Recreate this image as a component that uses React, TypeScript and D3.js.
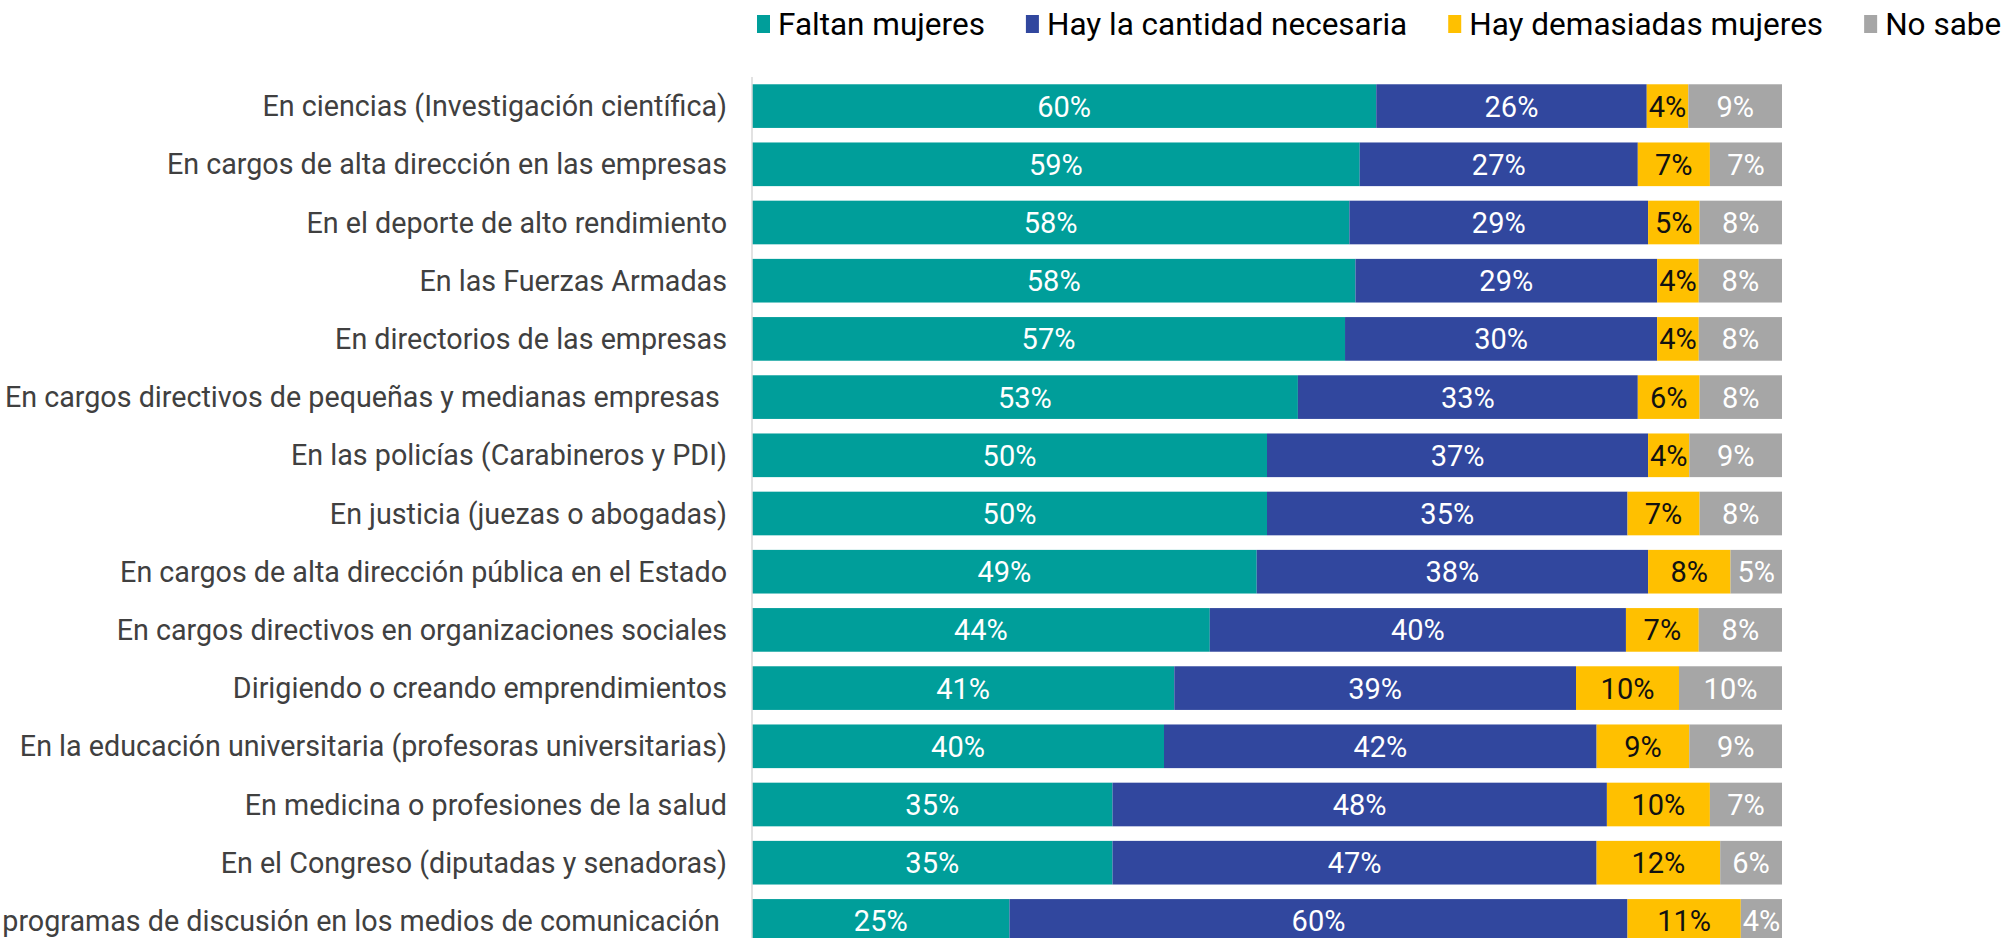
import { useEffect, useRef } from "react"
import * as d3 from "d3"

const categories = [
  "En ciencias (Investigación científica)",
  "En cargos de alta dirección en las empresas",
  "En el deporte de alto rendimiento",
  "En las Fuerzas Armadas",
  "En directorios de las empresas",
  "En cargos directivos de pequeñas y medianas empresas ",
  "En las policías (Carabineros y PDI)",
  "En justicia (juezas o abogadas)",
  "En cargos de alta dirección pública en el Estado",
  "En cargos directivos en organizaciones sociales",
  "Dirigiendo o creando emprendimientos",
  "En la educación universitaria (profesoras universitarias)",
  "En medicina o profesiones de la salud",
  "En el Congreso (diputadas y senadoras)",
  "En programas de discusión en los medios de comunicación ",
]
const faltan = [60, 59, 58, 58, 57, 53, 50, 50, 49, 44, 41, 40, 35, 35, 25]
const necesaria = [26, 27, 29, 29, 30, 33, 37, 35, 38, 40, 39, 42, 48, 47, 60]
const demasiadas = [4, 7, 5, 4, 4, 6, 4, 7, 8, 7, 10, 9, 10, 12, 11]
const noSabe = [9, 7, 8, 8, 8, 8, 9, 8, 5, 8, 10, 9, 7, 6, 4]

const seriesNames = ["Faltan mujeres", "Hay la cantidad necesaria", "Hay demasiadas mujeres", "No sabe"]
const colors = ["#009E9A", "#31479E", "#FFC000", "#A6A6A6"]
const valueColors = ["#ffffff", "#ffffff", "#111111", "#ffffff"]

const W = 2003, H = 938
const FONT = "Roboto, 'Noto Sans', sans-serif"

export default function App() {
  const ref = useRef<SVGSVGElement>(null)

  useEffect(() => {
    const svg = d3.select(ref.current!)
    svg.selectAll("*").remove()

    const rows = categories.map((c, i) => ({
      cat: c, s0: faltan[i], s1: necesaria[i], s2: demasiadas[i], s3: noSabe[i],
    }))
    const keys = ["s0", "s1", "s2", "s3"]
    const stacked = d3.stack<any>().keys(keys).offset(d3.stackOffsetExpand)(rows)

    const x = d3.scaleLinear().domain([0, 1]).range([752, 1782])
    const y = d3.scaleBand().domain(categories).range([77, 950]).paddingInner(0.25).paddingOuter(0.125)

    // category labels
    svg.append("g").selectAll("text").data(categories).join("text")
      .attr("x", 727)
      .attr("y", d => y(d)! + y.bandwidth() / 2)
      .attr("dy", "0.35em")
      .attr("text-anchor", "end")
      .style("white-space", "pre")
      .attr("font-family", FONT)
      .attr("font-size", 28.7)
      .attr("fill", "#404040")
      .text(d => d)

    // bars
    stacked.forEach((layer, k) => {
      const g = svg.append("g")
      g.selectAll("rect").data(layer).join("rect")
        .attr("x", d => x(d[0]))
        .attr("y", d => y(d.data.cat)!)
        .attr("width", d => x(d[1]) - x(d[0]))
        .attr("height", y.bandwidth())
        .attr("fill", colors[k])
      g.selectAll("text").data(layer).join("text")
        .attr("x", d => (x(d[0]) + x(d[1])) / 2)
        .attr("y", d => y(d.data.cat)! + y.bandwidth() / 2)
        .attr("dy", "0.36em")
        .attr("text-anchor", "middle")
        .attr("font-family", FONT)
        .attr("font-size", 29)
        .attr("fill", valueColors[k])
        .text(d => `${d.data[keys[k]]}%`)
    })

    // axis line
    svg.append("line")
      .attr("x1", x(0)).attr("x2", x(0))
      .attr("y1", y.range()[0]).attr("y2", H)
      .attr("stroke", "#d9d9d9").attr("stroke-width", 1.5)

    // legend
    const lg = svg.append("g")
    let lx = 757
    seriesNames.forEach((name, k) => {
      lg.append("rect").attr("x", lx).attr("y", 15).attr("width", 13).attr("height", 18).attr("fill", colors[k])
      const t = lg.append("text")
        .attr("x", lx + 21).attr("y", 24).attr("dy", "0.35em")
        .attr("font-family", FONT).attr("font-size", 31.5).attr("fill", "#000")
        .text(name)
      const w = (t.node() as SVGTextElement).getComputedTextLength()
      lx += 21 + w + 41
    })
  }, [])

  return (
    <svg ref={ref} width={W} height={H}
      style={{ position: "absolute", left: 0, top: 0, background: "#fff", overflow: "hidden" }} />
  )
}
